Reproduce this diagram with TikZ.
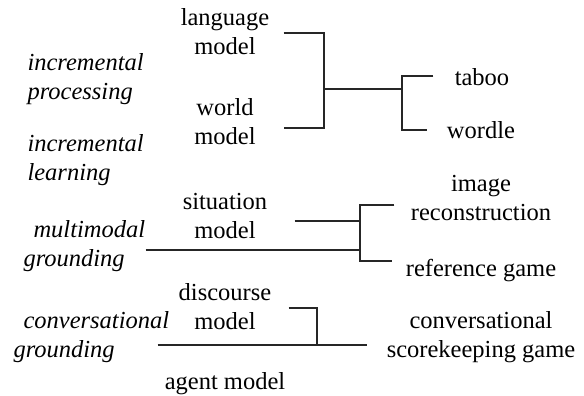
\documentclass[tikz,border=0pt]{standalone}
\usepackage{fontspec}
\setmainfont{Liberation Serif}
\usetikzlibrary{positioning}

\begin{document}
\begin{tikzpicture}[x=1pt,y=-1pt,
    txt/.style={align=center,font=\fontsize{24.5}{29}\selectfont},
    link/.style={black!85,line width=1.4pt}]
    \useasboundingbox (0,0) rectangle (584,396);
    %%%%% THE MODELS
    \begin{scope}[every node/.style={txt,text width=100pt}]
      \node (LM) at (225,32) {language\\model};
      \node (WM) at (225,122) {world\\model};
      \node (SM) at (225,216) {situation\\model};
      \node (DM) at (225,307) {discourse\\model};
    \end{scope}
    \node[txt] (AM) at (225,384) {agent model};
    %%%%% THE PROCESSES
    \begin{scope}[every node/.style={txt,align=left,anchor=west,font=\fontsize{24.5}{29}\selectfont\itshape}]
      \node (IP) at (24,79) {incremental\\processing};
      \node (IL) at (24,160) {incremental\\learning};
      \node (MG) at (20,246) {\hspace{10pt}multimodal\\grounding};
      \node (CG) at (10,337) {\hspace{10pt}conversational\\grounding};
    \end{scope}
    %%%%% THE GAMES
    \begin{scope}[every node/.style={txt}]
      \node (TB) at (482,77) {taboo};
      \node (WD) at (481,130) {wordle};
      \node (IR) at (481,198) {image\\reconstruction};
      \node (RG) at (481,271) {reference game};
      \node (CS) at (481,337) {conversational\\scorekeeping game};
    \end{scope}
    %%%% LINKS FROM THE MODELS TO THE GAMES
    \coordinate (J1) at (324,89);
    \coordinate (J2) at (402,89);
    \coordinate (J3) at (360,221);
    \coordinate (J4) at (360,250);
    \coordinate (J5) at (317,345);
    \draw[link] ([xshift=5pt,yshift=-1pt]LM.east) -| (J1) |- ([xshift=5pt,yshift=-6pt]WM.east);
    \draw[link] (J1) -- (J2);
    \draw[link] ([xshift=-18pt,yshift=1pt]TB.west) -| (J2) |- ([xshift=-16pt]WD.west);
    \draw[link] ([xshift=16pt,yshift=-5pt]SM.east) -- (J3);
    \draw[link] ([xshift=-3pt,yshift=-4pt]MG.east) -- (J4);
    \draw[link] ([xshift=-13pt,yshift=-7pt]IR.west) -| (J4) |- ([xshift=-10pt,yshift=10pt]RG.west);
    \draw[link] ([xshift=10pt,yshift=-1pt]DM.east) -| (J5);
    \draw[link] ([xshift=-15pt,yshift=-8pt]CG.east) -- ([xshift=-16pt,yshift=-8pt]CS.west);
\end{tikzpicture}
\end{document}
